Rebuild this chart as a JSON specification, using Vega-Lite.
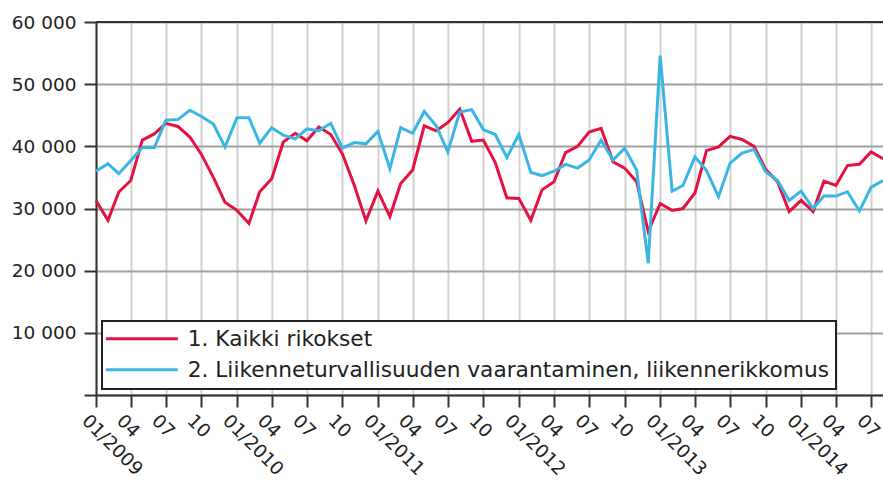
{
  "$schema": "https://vega.github.io/schema/vega-lite/v6.json",
  "width": 787,
  "height": 373,
  "autosize": {"type": "none"},
  "padding": {"left": 96, "top": 22, "right": 0, "bottom": 86},
  "background": "white",
  "config": {"view": {"stroke": null}, "font": "DejaVu Sans"},
  "datasets": {
    "d": [
      {"t":"2009-01-01","s":"1. Kaikki rikokset","v":31300},{"t":"2009-02-01","s":"1. Kaikki rikokset","v":28100},{"t":"2009-03-01","s":"1. Kaikki rikokset","v":32650},{"t":"2009-04-01","s":"1. Kaikki rikokset","v":34500},{"t":"2009-05-01","s":"1. Kaikki rikokset","v":41000},{"t":"2009-06-01","s":"1. Kaikki rikokset","v":42000},{"t":"2009-07-01","s":"1. Kaikki rikokset","v":43700},{"t":"2009-08-01","s":"1. Kaikki rikokset","v":43200},{"t":"2009-09-01","s":"1. Kaikki rikokset","v":41500},{"t":"2009-10-01","s":"1. Kaikki rikokset","v":38700},{"t":"2009-11-01","s":"1. Kaikki rikokset","v":35000},{"t":"2009-12-01","s":"1. Kaikki rikokset","v":31000},
      {"t":"2010-01-01","s":"1. Kaikki rikokset","v":29700},{"t":"2010-02-01","s":"1. Kaikki rikokset","v":27600},{"t":"2010-03-01","s":"1. Kaikki rikokset","v":32700},{"t":"2010-04-01","s":"1. Kaikki rikokset","v":34800},{"t":"2010-05-01","s":"1. Kaikki rikokset","v":40700},{"t":"2010-06-01","s":"1. Kaikki rikokset","v":42100},{"t":"2010-07-01","s":"1. Kaikki rikokset","v":40900},{"t":"2010-08-01","s":"1. Kaikki rikokset","v":43100},{"t":"2010-09-01","s":"1. Kaikki rikokset","v":41900},{"t":"2010-10-01","s":"1. Kaikki rikokset","v":38800},{"t":"2010-11-01","s":"1. Kaikki rikokset","v":33700},{"t":"2010-12-01","s":"1. Kaikki rikokset","v":28000},
      {"t":"2011-01-01","s":"1. Kaikki rikokset","v":32800},{"t":"2011-02-01","s":"1. Kaikki rikokset","v":28700},{"t":"2011-03-01","s":"1. Kaikki rikokset","v":34000},{"t":"2011-04-01","s":"1. Kaikki rikokset","v":36200},{"t":"2011-05-01","s":"1. Kaikki rikokset","v":43300},{"t":"2011-06-01","s":"1. Kaikki rikokset","v":42500},{"t":"2011-07-01","s":"1. Kaikki rikokset","v":43800},{"t":"2011-08-01","s":"1. Kaikki rikokset","v":46000},{"t":"2011-09-01","s":"1. Kaikki rikokset","v":40800},{"t":"2011-10-01","s":"1. Kaikki rikokset","v":41000},{"t":"2011-11-01","s":"1. Kaikki rikokset","v":37400},{"t":"2011-12-01","s":"1. Kaikki rikokset","v":31700},
      {"t":"2012-01-01","s":"1. Kaikki rikokset","v":31600},{"t":"2012-02-01","s":"1. Kaikki rikokset","v":28100},{"t":"2012-03-01","s":"1. Kaikki rikokset","v":33000},{"t":"2012-04-01","s":"1. Kaikki rikokset","v":34300},{"t":"2012-05-01","s":"1. Kaikki rikokset","v":39000},{"t":"2012-06-01","s":"1. Kaikki rikokset","v":40000},{"t":"2012-07-01","s":"1. Kaikki rikokset","v":42300},{"t":"2012-08-01","s":"1. Kaikki rikokset","v":42900},{"t":"2012-09-01","s":"1. Kaikki rikokset","v":37500},{"t":"2012-10-01","s":"1. Kaikki rikokset","v":36500},{"t":"2012-11-01","s":"1. Kaikki rikokset","v":34300},{"t":"2012-12-01","s":"1. Kaikki rikokset","v":26300},
      {"t":"2013-01-01","s":"1. Kaikki rikokset","v":30800},{"t":"2013-02-01","s":"1. Kaikki rikokset","v":29700},{"t":"2013-03-01","s":"1. Kaikki rikokset","v":30000},{"t":"2013-04-01","s":"1. Kaikki rikokset","v":32500},{"t":"2013-05-01","s":"1. Kaikki rikokset","v":39300},{"t":"2013-06-01","s":"1. Kaikki rikokset","v":39900},{"t":"2013-07-01","s":"1. Kaikki rikokset","v":41600},{"t":"2013-08-01","s":"1. Kaikki rikokset","v":41100},{"t":"2013-09-01","s":"1. Kaikki rikokset","v":40000},{"t":"2013-10-01","s":"1. Kaikki rikokset","v":36300},{"t":"2013-11-01","s":"1. Kaikki rikokset","v":34300},{"t":"2013-12-01","s":"1. Kaikki rikokset","v":29500},
      {"t":"2014-01-01","s":"1. Kaikki rikokset","v":31300},{"t":"2014-02-01","s":"1. Kaikki rikokset","v":29500},{"t":"2014-03-01","s":"1. Kaikki rikokset","v":34400},{"t":"2014-04-01","s":"1. Kaikki rikokset","v":33700},{"t":"2014-05-01","s":"1. Kaikki rikokset","v":36900},{"t":"2014-06-01","s":"1. Kaikki rikokset","v":37100},{"t":"2014-07-01","s":"1. Kaikki rikokset","v":39100},{"t":"2014-08-01","s":"1. Kaikki rikokset","v":38000},
      {"t":"2009-01-01","s":"2. Liikenneturvallisuuden vaarantaminen, liikennerikkomus","v":36000},{"t":"2009-02-01","s":"2. Liikenneturvallisuuden vaarantaminen, liikennerikkomus","v":37200},{"t":"2009-03-01","s":"2. Liikenneturvallisuuden vaarantaminen, liikennerikkomus","v":35600},{"t":"2009-04-01","s":"2. Liikenneturvallisuuden vaarantaminen, liikennerikkomus","v":37700},{"t":"2009-05-01","s":"2. Liikenneturvallisuuden vaarantaminen, liikennerikkomus","v":39800},{"t":"2009-06-01","s":"2. Liikenneturvallisuuden vaarantaminen, liikennerikkomus","v":39800},{"t":"2009-07-01","s":"2. Liikenneturvallisuuden vaarantaminen, liikennerikkomus","v":44200},{"t":"2009-08-01","s":"2. Liikenneturvallisuuden vaarantaminen, liikennerikkomus","v":44300},{"t":"2009-09-01","s":"2. Liikenneturvallisuuden vaarantaminen, liikennerikkomus","v":45800},{"t":"2009-10-01","s":"2. Liikenneturvallisuuden vaarantaminen, liikennerikkomus","v":44800},{"t":"2009-11-01","s":"2. Liikenneturvallisuuden vaarantaminen, liikennerikkomus","v":43600},{"t":"2009-12-01","s":"2. Liikenneturvallisuuden vaarantaminen, liikennerikkomus","v":39900},
      {"t":"2010-01-01","s":"2. Liikenneturvallisuuden vaarantaminen, liikennerikkomus","v":44600},{"t":"2010-02-01","s":"2. Liikenneturvallisuuden vaarantaminen, liikennerikkomus","v":44600},{"t":"2010-03-01","s":"2. Liikenneturvallisuuden vaarantaminen, liikennerikkomus","v":40500},{"t":"2010-04-01","s":"2. Liikenneturvallisuuden vaarantaminen, liikennerikkomus","v":43000},{"t":"2010-05-01","s":"2. Liikenneturvallisuuden vaarantaminen, liikennerikkomus","v":41800},{"t":"2010-06-01","s":"2. Liikenneturvallisuuden vaarantaminen, liikennerikkomus","v":41200},{"t":"2010-07-01","s":"2. Liikenneturvallisuuden vaarantaminen, liikennerikkomus","v":42800},{"t":"2010-08-01","s":"2. Liikenneturvallisuuden vaarantaminen, liikennerikkomus","v":42500},{"t":"2010-09-01","s":"2. Liikenneturvallisuuden vaarantaminen, liikennerikkomus","v":43700},{"t":"2010-10-01","s":"2. Liikenneturvallisuuden vaarantaminen, liikennerikkomus","v":39700},{"t":"2010-11-01","s":"2. Liikenneturvallisuuden vaarantaminen, liikennerikkomus","v":40600},{"t":"2010-12-01","s":"2. Liikenneturvallisuuden vaarantaminen, liikennerikkomus","v":40400},
      {"t":"2011-01-01","s":"2. Liikenneturvallisuuden vaarantaminen, liikennerikkomus","v":42400},{"t":"2011-02-01","s":"2. Liikenneturvallisuuden vaarantaminen, liikennerikkomus","v":36400},{"t":"2011-03-01","s":"2. Liikenneturvallisuuden vaarantaminen, liikennerikkomus","v":43000},{"t":"2011-04-01","s":"2. Liikenneturvallisuuden vaarantaminen, liikennerikkomus","v":42100},{"t":"2011-05-01","s":"2. Liikenneturvallisuuden vaarantaminen, liikennerikkomus","v":45600},{"t":"2011-06-01","s":"2. Liikenneturvallisuuden vaarantaminen, liikennerikkomus","v":43300},{"t":"2011-07-01","s":"2. Liikenneturvallisuuden vaarantaminen, liikennerikkomus","v":39100},{"t":"2011-08-01","s":"2. Liikenneturvallisuuden vaarantaminen, liikennerikkomus","v":45500},{"t":"2011-09-01","s":"2. Liikenneturvallisuuden vaarantaminen, liikennerikkomus","v":45900},{"t":"2011-10-01","s":"2. Liikenneturvallisuuden vaarantaminen, liikennerikkomus","v":42700},{"t":"2011-11-01","s":"2. Liikenneturvallisuuden vaarantaminen, liikennerikkomus","v":41900},{"t":"2011-12-01","s":"2. Liikenneturvallisuuden vaarantaminen, liikennerikkomus","v":38200},
      {"t":"2012-01-01","s":"2. Liikenneturvallisuuden vaarantaminen, liikennerikkomus","v":41900},{"t":"2012-02-01","s":"2. Liikenneturvallisuuden vaarantaminen, liikennerikkomus","v":35800},{"t":"2012-03-01","s":"2. Liikenneturvallisuuden vaarantaminen, liikennerikkomus","v":35300},{"t":"2012-04-01","s":"2. Liikenneturvallisuuden vaarantaminen, liikennerikkomus","v":36000},{"t":"2012-05-01","s":"2. Liikenneturvallisuuden vaarantaminen, liikennerikkomus","v":37100},{"t":"2012-06-01","s":"2. Liikenneturvallisuuden vaarantaminen, liikennerikkomus","v":36500},{"t":"2012-07-01","s":"2. Liikenneturvallisuuden vaarantaminen, liikennerikkomus","v":37800},{"t":"2012-08-01","s":"2. Liikenneturvallisuuden vaarantaminen, liikennerikkomus","v":41000},{"t":"2012-09-01","s":"2. Liikenneturvallisuuden vaarantaminen, liikennerikkomus","v":37800},{"t":"2012-10-01","s":"2. Liikenneturvallisuuden vaarantaminen, liikennerikkomus","v":39700},{"t":"2012-11-01","s":"2. Liikenneturvallisuuden vaarantaminen, liikennerikkomus","v":36200},{"t":"2012-12-01","s":"2. Liikenneturvallisuuden vaarantaminen, liikennerikkomus","v":21200},
      {"t":"2013-01-01","s":"2. Liikenneturvallisuuden vaarantaminen, liikennerikkomus","v":54600},{"t":"2013-02-01","s":"2. Liikenneturvallisuuden vaarantaminen, liikennerikkomus","v":32800},{"t":"2013-03-01","s":"2. Liikenneturvallisuuden vaarantaminen, liikennerikkomus","v":33700},{"t":"2013-04-01","s":"2. Liikenneturvallisuuden vaarantaminen, liikennerikkomus","v":38300},{"t":"2013-05-01","s":"2. Liikenneturvallisuuden vaarantaminen, liikennerikkomus","v":36100},{"t":"2013-06-01","s":"2. Liikenneturvallisuuden vaarantaminen, liikennerikkomus","v":31900},{"t":"2013-07-01","s":"2. Liikenneturvallisuuden vaarantaminen, liikennerikkomus","v":37300},{"t":"2013-08-01","s":"2. Liikenneturvallisuuden vaarantaminen, liikennerikkomus","v":38900},{"t":"2013-09-01","s":"2. Liikenneturvallisuuden vaarantaminen, liikennerikkomus","v":39500},{"t":"2013-10-01","s":"2. Liikenneturvallisuuden vaarantaminen, liikennerikkomus","v":35900},{"t":"2013-11-01","s":"2. Liikenneturvallisuuden vaarantaminen, liikennerikkomus","v":34500},{"t":"2013-12-01","s":"2. Liikenneturvallisuuden vaarantaminen, liikennerikkomus","v":31300},
      {"t":"2014-01-01","s":"2. Liikenneturvallisuuden vaarantaminen, liikennerikkomus","v":32800},{"t":"2014-02-01","s":"2. Liikenneturvallisuuden vaarantaminen, liikennerikkomus","v":30000},{"t":"2014-03-01","s":"2. Liikenneturvallisuuden vaarantaminen, liikennerikkomus","v":32000},{"t":"2014-04-01","s":"2. Liikenneturvallisuuden vaarantaminen, liikennerikkomus","v":32000},{"t":"2014-05-01","s":"2. Liikenneturvallisuuden vaarantaminen, liikennerikkomus","v":32700},{"t":"2014-06-01","s":"2. Liikenneturvallisuuden vaarantaminen, liikennerikkomus","v":29600},{"t":"2014-07-01","s":"2. Liikenneturvallisuuden vaarantaminen, liikennerikkomus","v":33400},{"t":"2014-08-01","s":"2. Liikenneturvallisuuden vaarantaminen, liikennerikkomus","v":34500}
    ]
  },
  "data": {"name": "d"},
  "layer": [
    {
      "mark": {"type": "line", "strokeWidth": 3},
      "encoding": {
        "x": {
          "field": "t", "type": "temporal",
          "scale": {"type": "utc", "domain": [{"year": 2009, "month": 1, "date": 1, "utc": true}, {"year": 2014, "month": 8, "date": 1, "utc": true}]},
          "axis": {
            "title": null,
            "tickCount": {"interval": "month", "step": 3},
            "labelExpr": "utcmonth(datum.value) == 0 ? utcFormat(datum.value, '%m/%Y') : utcFormat(datum.value, '%m')",
            "labelAngle": 45, "labelAlign": "left", "labelBaseline": "top",
            "labelFontSize": 18.5, "labelColor": "#222", "labelPadding": 4, "labelOffset": -5,
            "labelFlush": false, "labelOverlap": false,
            "tickSize": 12, "tickColor": "#333", "tickWidth": 2,
            "domainColor": "#333", "domainWidth": 2,
            "grid": true, "gridColor": "#d2d2d2", "gridWidth": 2
          }
        },
        "y": {
          "field": "v", "type": "quantitative",
          "scale": {"domain": [0, 60000]},
          "axis": {
            "title": null,
            "values": [0, 10000, 20000, 30000, 40000, 50000, 60000],
            "labelExpr": "datum.value == 0 ? '' : replace(format(datum.value, ','), ',', ' ')",
            "labelFontSize": 18.5, "labelColor": "#222", "labelPadding": 8,
            "tickSize": 12, "tickColor": "#333", "tickWidth": 2,
            "domainColor": "#333", "domainWidth": 2,
            "grid": true, "gridColor": "#a0a0a0", "gridWidth": 2
          }
        },
        "color": {
          "field": "s", "type": "nominal",
          "scale": {"domain": ["1. Kaikki rikokset", "2. Liikenneturvallisuuden vaarantaminen, liikennerikkomus"], "range": ["#e5123f", "#3ab6e5"]},
          "legend": {
            "orient": "bottom-left", "offset": 6, "title": null,
            "symbolType": "M0,0H36", "symbolSize": 16, "symbolStrokeWidth": 3, "symbolOffset": -14,
            "labelOffset": 71, "labelFontSize": 21.7, "labelLimit": 1000, "labelColor": "#222",
            "strokeColor": "#222", "fillColor": "white",
            "padding": 7, "rowPadding": 8,
            "encode": {"legend": {"update": {"strokeWidth": {"value": 2}}}}
          }
        }
      }
    },
    {
      "mark": {"type": "rule", "color": "#333", "strokeWidth": 2},
      "encoding": {"y": {"datum": 60000}}
    }
  ]
}
